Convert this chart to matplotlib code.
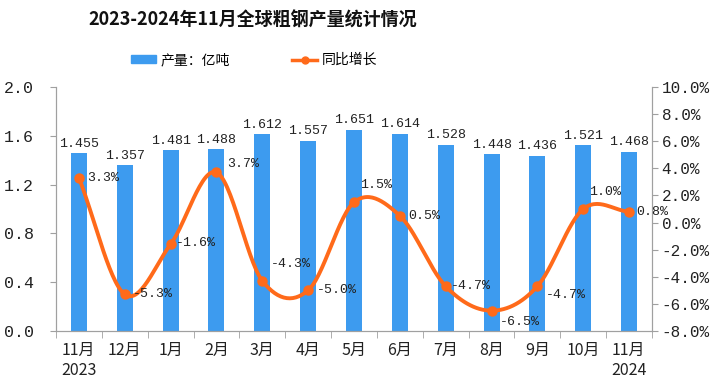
import numpy as np
import matplotlib
matplotlib.use("Agg")
import matplotlib.pyplot as plt
from matplotlib.lines import Line2D
from matplotlib.patches import Patch

plt.rcParams['font.family'] = ['Noto Sans CJK SC', 'DejaVu Sans']

categories = ["11月\n2023", "12月", "1月", "2月", "3月", "4月", "5月", "6月",
              "7月", "8月", "9月", "10月", "11月\n2024"]
output = [1.455, 1.357, 1.481, 1.488, 1.612, 1.557, 1.651, 1.614,
          1.528, 1.448, 1.436, 1.521, 1.468]
yoy = [3.3, -5.3, -1.6, 3.7, -4.3, -5.0, 1.5, 0.5, -4.7, -6.5, -4.7, 1.0, 0.8]

bar_color = "#3D9BEF"
line_color = "#FF6A1A"
axis_color = "#A0A0A0"
text_color = "#222222"
mono = ["Liberation Mono", "DejaVu Sans"]

fig = plt.figure(figsize=(7.23, 3.87), dpi=100)
ax = fig.add_axes([56/723, 1-331/387, (652-56)/723, (331-87)/387])
ax2 = ax.twinx()

x = np.arange(len(categories))
ax.bar(x, output, width=0.35, color=bar_color, zorder=2)
for xi, v in zip(x, output):
    ax.text(xi, v + 0.03, f"{v:.3f}", ha="center", va="bottom", fontsize=9.5,
            color=text_color, family=mono)

# smooth curve (Catmull-Rom through the data points)
def catmull(xs, ys, n=30):
    xs = np.asarray(xs, float); ys = np.asarray(ys, float)
    px = np.concatenate([[2*xs[0]-xs[1]], xs, [2*xs[-1]-xs[-2]]])
    py = np.concatenate([[2*ys[0]-ys[1]], ys, [2*ys[-1]-ys[-2]]])
    ox, oy = [], []
    for i in range(1, len(px)-2):
        t = np.linspace(0, 1, n, endpoint=False)
        for arr, out in ((px, ox), (py, oy)):
            p0, p1, p2, p3 = arr[i-1], arr[i], arr[i+1], arr[i+2]
            out.extend(0.5*((2*p1) + (-p0+p2)*t + (2*p0-5*p1+4*p2-p3)*t**2
                            + (-p0+3*p1-3*p2+p3)*t**3))
    ox.append(xs[-1]); oy.append(ys[-1])
    return np.array(ox), np.array(oy)

sx, sy = catmull(x, yoy)
ax2.plot(sx, sy, color=line_color, lw=2.8, zorder=3)
ax2.plot(x, yoy, "o", color=line_color, ms=6.5, zorder=4)

offsets = {0: (6, 0, "left", "center"), 1: (6, 0, "left", "center"),
           2: (4, 1, "left", "center"), 3: (8, 6, "left", "center"),
           4: (6, 12, "left", "center"), 5: (6, 0, "left", "center"),
           6: (4, 8, "left", "bottom"), 7: (6, 0, "left", "center"),
           8: (4, 0, "left", "center"), 9: (6, -8, "left", "center"),
           10: (6, -6, "left", "center"), 11: (4, 8, "left", "bottom"),
           12: (5, 0, "left", "center")}
for i, v in enumerate(yoy):
    dx, dy, ha, va = offsets[i]
    ax2.annotate(f"{v:.1f}%", (i, v), xytext=(dx, dy), textcoords="offset points",
                 ha=ha, va=va, fontsize=9.5, color=text_color,
                 family=mono, zorder=5)

ax.set_xlim(-0.5, len(categories)-0.5)
ax.set_ylim(0, 2.0)
ax2.set_ylim(-8, 10)
ax.set_yticks(np.arange(0, 2.01, 0.4))
ax.set_yticklabels([f"{v:.1f}" for v in np.arange(0, 2.01, 0.4)])
ax2.set_yticks(np.arange(-8, 10.1, 2))
ax2.set_yticklabels([f"{v:.1f}%" for v in np.arange(-8, 10.1, 2)])

ax.set_xticks(x)
ax.set_xticklabels(categories)
ax.set_xticks(np.arange(-0.5, len(categories), 1), minor=True)
ax.tick_params(axis="x", which="major", length=0, pad=8, labelsize=11.5, colors=text_color)
ax.tick_params(axis="x", which="minor", length=5, color=axis_color)
ax.tick_params(axis="y", length=4, color=axis_color, labelsize=12, labelcolor=text_color, pad=12)
ax2.tick_params(axis="y", length=4, color=axis_color, labelsize=11.5, labelcolor=text_color, pad=3)
for lab in ax.get_yticklabels() + ax2.get_yticklabels():
    lab.set_family(mono)
for lab in ax.get_xticklabels():
    lab.set_ha("center")
    lab.set_multialignment("left")

for a in (ax, ax2):
    a.spines["top"].set_visible(False)
    for s in ("left", "right", "bottom"):
        a.spines[s].set_color(axis_color)

fig.text(253/723, 1-20/387, "2023-2024年11月全球粗钢产量统计情况", ha="center", va="center",
         fontsize=13, fontweight="bold", color="#111111")

handles = [Patch(color=bar_color, label="产量：亿吨"),
           Line2D([0], [0], color=line_color, lw=2.5, marker="o", ms=5, label="同比增长")]
fig.legend(handles=handles, loc="center", bbox_to_anchor=(254/723, 1-60/387), ncol=2,
           frameon=False, fontsize=10, handlelength=1.8, handleheight=0.5,
           columnspacing=4.5, handletextpad=0.3)

fig.savefig("out.png", dpi=100)
